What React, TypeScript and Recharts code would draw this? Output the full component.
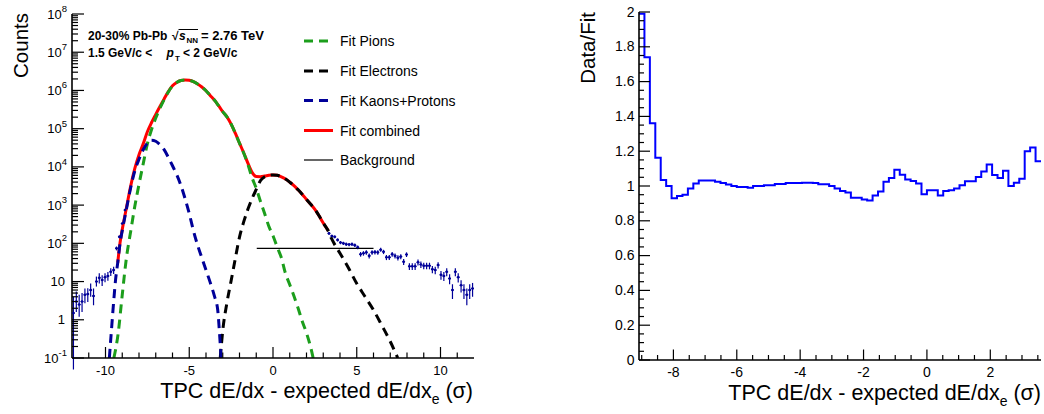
import React from 'react';
import { ComposedChart, Line, Scatter, ErrorBar, XAxis, YAxis } from 'recharts';

const FONT = '"Liberation Sans", Arial, Helvetica, sans-serif';
const GREEN = '#1c9e1c';
const NAVY = '#000099';
const RED = '#ff0000';
const BLUE = '#0000ff';

// histogram binning: 140 bins over [-12, 12]
const BIN_W = 24 / 140;

// ---- left panel: fit components, x in sigma, y in counts ----
const pionX = [-9.5, -9.25, -9.0, -8.75, -8.5, -8.25, -8.0, -7.75, -7.5, -7.25, -7.0, -6.75, -6.5, -6.25, -6.0, -5.75, -5.5, -5.25, -5.0, -4.75, -4.5, -4.25, -4.0, -3.75, -3.5, -3.25, -3.0, -2.75, -2.5, -2.25, -2.0, -1.75, -1.5, -1.25, -1.0, -0.75, -0.5, -0.25, 0.0, 0.25, 0.5, 0.75, 1.0, 1.25, 1.5, 1.75, 2.0, 2.25, 2.42];
const pionY = [0.1, 0.42, 4.5, 42, 200, 930, 3500, 12000, 40000, 95000, 190000, 340000, 575000, 915000, 1.31e6, 1.62e6, 1.82e6, 1.88e6, 1.84e6, 1.7e6, 1.48e6, 1.23e6, 9.8e5, 7.4e5, 5.6e5, 4.0e5, 2.8e5, 2.04e5, 1.32e5, 7.6e4, 4.15e4, 2.3e4, 1.17e4, 5200, 2750, 1260, 600, 280, 158, 80, 42, 16, 8.3, 4.2, 2.0, 0.9, 0.45, 0.19, 0.09];

const electronX = [-3.15, -3.0, -2.75, -2.5, -2.25, -2.0, -1.75, -1.5, -1.25, -1.0, -0.75, -0.5, -0.25, 0, 0.25, 0.5, 0.75, 1.0, 1.25, 1.5, 1.75, 2.0, 2.25, 2.5, 2.75, 3.0, 3.3, 3.5, 4.0, 4.5, 5.0, 5.5, 6.0, 6.5, 7.0, 7.45];
const electronY = [0.1, 0.52, 2.8, 10.5, 40, 145, 363, 776, 1480, 2570, 4365, 5500, 6030, 6170, 6030, 5500, 4790, 3980, 3240, 2510, 1905, 1410, 1050, 776, 525, 340, 210, 132, 55, 23, 8.9, 4.0, 1.8, 0.71, 0.27, 0.1];

const kpX = [-9.77, -9.65, -9.5, -9.4, -9.27, -9.13, -9.0, -8.75, -8.5, -8.25, -8.0, -7.75, -7.5, -7.25, -7.0, -6.75, -6.5, -6.25, -6.0, -5.75, -5.5, -5.25, -5.0, -4.75, -4.5, -4.25, -4.0, -3.75, -3.5, -3.3, -3.2, -3.1];
const kpY = [0.1, 0.5, 3.5, 11, 31, 100, 214, 790, 2800, 7900, 15800, 28000, 41700, 50000, 46800, 38000, 28200, 17800, 10700, 6300, 3300, 1480, 600, 214, 89, 42, 20, 9.5, 4.2, 1.8, 0.5, 0.1];

const combinedX = [-9.27, -9.13, -9.0, -8.75, -8.5, -8.25, -8.0, -7.75, -7.5, -7.25, -7.0, -6.75, -6.5, -6.25, -6.0, -5.75, -5.5, -5.25, -5.0, -4.75, -4.5, -4.25, -4.0, -3.75, -3.5, -3.25, -3.0, -2.75, -2.5, -2.25, -2.0, -1.75, -1.5, -1.25, -1.0, -0.75, -0.5, -0.25, 0, 0.25, 0.5, 0.75, 1.0, 1.25, 1.5, 1.75, 2.0, 2.25, 2.5, 2.75, 3.0, 3.3];
const combinedY = [31, 105, 230, 850, 3100, 9100, 20900, 40000, 83000, 1.45e5, 2.37e5, 3.8e5, 6.0e5, 9.3e5, 1.32e6, 1.62e6, 1.82e6, 1.88e6, 1.84e6, 1.7e6, 1.48e6, 1.23e6, 9.8e5, 7.4e5, 5.6e5, 4.0e5, 2.8e5, 2.04e5, 1.32e5, 7.6e4, 4.17e4, 2.34e4, 1.26e4, 7200, 5600, 5560, 5750, 6030, 6170, 6030, 5500, 4790, 3980, 3240, 2510, 1905, 1410, 1050, 776, 525, 340, 214];

const backgroundX = [-0.97, 6.0];
const backgroundY = [74, 74];

// ---- left panel: data histogram (visible bins only) ----
const lowFirstBin = 0;
const lowCounts = [1.5, 3.0, 2.5, 3.0, 4.5, 4.7, 6.0, 4.2, 10, 12.5, 11, 13, 14, 18, 20, 74, 148, 330, 740];
const lowErrDown = [1.45, 1.4, 1.3, 1.4, 1.8, 1.8, 2.0, 1.8, 2.6, 3.6, 3.3, 3.4, 3.5, 4.0, 4.2, 8.6, 12, 18, 27];
const lowErrUp = [2.5, 2.5, 2.0, 2.0, 2.1, 2.0, 2.9, 2.4, 3.5, 4.0, 3.6, 3.6, 3.7, 4.2, 4.5, 8.6, 12, 18, 27];

const tailFirstBin = 89;
const tailCounts = [182, 155, 148, 123, 105, 100, 95, 93, 95, 89, 79, 52, 55, 58, 47, 58, 59, 58, 68, 60, 43, 43, 52, 47, 42, 45, 33, 51, 25, 25, 25, 32, 28, 26, 26, 26, 21, 20, 27, 15, 14, 18, 12, 6, 18, 13, 8, 6, 4.5, 6, 6.6];
const tailErr = [13.5, 12.4, 12.2, 11.1, 10.2, 10, 9.7, 9.6, 9.7, 9.4, 8.9, 7.2, 7.4, 7.6, 6.9, 7.6, 7.7, 7.6, 8.2, 7.7, 6.6, 6.6, 7.2, 6.9, 6.5, 6.7, 5.7, 7.1, 5, 5, 5, 5.7, 5.3, 5.1, 5.1, 5.1, 4.6, 4.5, 5.2, 3.9, 3.7, 4.2, 3.5, 2.5, 4.2, 3.6, 2.8, 2.5, 2.1, 2.5, 2.6];

// ---- right panel: Data/Fit ratio, bins 17..90 ----
const ratioFirstBin = 17;
const ratioValues = [
  1.99, 1.74, 1.36, 1.163, 1.034, 1.0, 0.929, 0.942, 0.95, 0.986,
  1.015, 1.031, 1.031, 1.031, 1.025, 1.017, 1.008, 1.0, 0.994, 0.994,
  0.99, 1.0, 1.0, 1.004, 1.004, 1.012, 1.012, 1.017, 1.017, 1.017,
  1.019, 1.019, 1.017, 1.01, 1.01, 1.0, 0.985, 0.971, 0.962, 0.933,
  0.933, 0.923, 0.917, 0.946, 0.969, 1.025, 1.046, 1.094, 1.065, 1.038,
  1.029, 1.015, 0.952, 0.975, 0.975, 0.946, 0.971, 0.975, 0.985, 1.004,
  1.027, 1.027, 1.052, 1.083, 1.123, 1.063, 1.046, 1.088, 1.0, 1.019,
  1.042, 1.2, 1.221, 1.142,
];

// ---- axis ticks ----
const LEFT_X_MAJOR = [-10, -5, 0, 5, 10];
const LEFT_X_MINOR = [-11, -9, -8, -7, -6, -4, -3, -2, -1, 1, 2, 3, 4, 6, 7, 8, 9, 11];
const LEFT_Y_MAJOR = [0.1, 1, 10, 100, 1000, 1e4, 1e5, 1e6, 1e7, 1e8];
const RIGHT_X_MAJOR = [-8, -6, -4, -2, 0, 2];
const RIGHT_X_MINOR = [-9, -8.5, -7.5, -7, -6.5, -5.5, -5, -4.5, -3.5, -3, -2.5, -1.5, -1, -0.5, 0.5, 1, 1.5, 2.5, 3, 3.5];
const RIGHT_Y_MAJOR = [0, 0.2, 0.4, 0.6, 0.8, 1, 1.2, 1.4, 1.6, 1.8, 2];

const LEFT_Y_MINOR: number[] = [];
LEFT_Y_MAJOR.slice(0, -1).forEach((d) => {
  for (let m = 2; m <= 9; m++) LEFT_Y_MINOR.push(d * m);
});
const RIGHT_Y_MINOR: number[] = [];
RIGHT_Y_MAJOR.slice(0, -1).forEach((d) => {
  [0.05, 0.1, 0.15].forEach((s) => RIGHT_Y_MINOR.push(d + s));
});

const zip = (xs: number[], ys: number[]) => xs.map((x, i) => ({ x, y: ys[i] }));
const binCenter = (k: number) => -12 + (k + 0.5) * BIN_W;

const pionData = zip(pionX, pionY);
const electronData = zip(electronX, electronY);
const kpData = zip(kpX, kpY);
const combinedData = zip(combinedX, combinedY);
const backgroundData = zip(backgroundX, backgroundY);

const pointData = [
  ...lowCounts.map((y, i) => ({
    x: binCenter(lowFirstBin + i),
    y,
    ey: [lowErrDown[i], lowErrUp[i]],
    ex: BIN_W / 2,
  })),
  ...tailCounts.map((y, i) => ({
    x: binCenter(tailFirstBin + i),
    y,
    ey: [tailErr[i], tailErr[i]],
    ex: BIN_W / 2,
  })),
];

const ratioLo = -12 + ratioFirstBin * BIN_W;
const ratioHi = -12 + (ratioFirstBin + ratioValues.length) * BIN_W;
const ratioData = [
  ...ratioValues.map((y, i) => ({ x: -12 + (ratioFirstBin + i) * BIN_W, y })),
  { x: ratioHi, y: ratioValues[ratioValues.length - 1] },
];

type Side = 'left' | 'right' | 'top' | 'bottom';

const isIn = (arr: number[], v: number) => arr.some((m) => Math.abs(m - v) <= 1e-9 * Math.max(1, Math.abs(m)));

function makeTick(
  side: Side,
  majors: number[],
  majorLen: number,
  minorLen: number,
  label?: (v: number, x: number, y: number) => React.ReactNode,
) {
  return (p: any) => {
    const { x, y, payload } = p;
    const v = payload.value;
    const major = isIn(majors, v);
    const len = major ? majorLen : minorLen;
    let x2 = x;
    let y2 = y;
    if (side === 'left') x2 = x + len;
    else if (side === 'right') x2 = x - len;
    else if (side === 'top') y2 = y + len;
    else y2 = y - len;
    return (
      <g>
        <line x1={x} y1={y} x2={x2} y2={y2} stroke="#000" strokeWidth={1.2} />
        {major && label ? label(v, x, y) : null}
      </g>
    );
  };
}

const logLabel = (v: number, x: number, y: number) => {
  const e = Math.round(Math.log10(v));
  if (e === 0 || e === 1) {
    return (
      <text x={x - 7} y={y + 4.5} textAnchor="end" fontSize={13} fontFamily={FONT} fill="#000">
        {e === 0 ? '1' : '10'}
      </text>
    );
  }
  return (
    <text x={x - 5} y={y + 4.5} textAnchor="end" fontSize={13} fontFamily={FONT} fill="#000">
      10<tspan fontSize={9.5} dy={-6.5}>{e}</tspan>
    </text>
  );
};

const xLabel = (size: number) => (v: number, x: number, y: number) => (
  <text x={x} y={y + 17} textAnchor="middle" fontSize={size} fontFamily={FONT} fill="#000">
    {String(v)}
  </text>
);

const ratioLabel = (v: number, x: number, y: number) => (
  <text x={x - 4.5} y={y + 4.5} textAnchor="end" fontSize={14} fontFamily={FONT} fill="#000">
    {String(Math.round(v * 10) / 10)}
  </text>
);

const frame = { stroke: '#000', strokeWidth: 1.6 };

const dataDot = (p: any) => <circle cx={p.cx} cy={p.cy} r={1.3} fill={NAVY} />;

const legendItems = [
  { label: 'Fit Pions', color: GREEN, dash: '9 6', width: 3, y: 41 },
  { label: 'Fit Electrons', color: '#000', dash: '9 6', width: 3, y: 71 },
  { label: 'Fit Kaons+Protons', color: NAVY, dash: '9 6', width: 3, y: 100.5 },
  { label: 'Fit combined', color: RED, dash: undefined, width: 3, y: 130.5 },
  { label: 'Background', color: '#000', dash: undefined, width: 1.2, y: 160 },
];

function SpectrumPanel() {
  return (
    <ComposedChart width={480} height={414} margin={{ top: 14, right: 6, bottom: 0, left: 0 }}>
      <XAxis
        xAxisId="b"
        dataKey="x"
        type="number"
        domain={[-12, 12]}
        allowDataOverflow
        height={56}
        ticks={[...LEFT_X_MAJOR, ...LEFT_X_MINOR]}
        interval={0}
        tickSize={0}
        tickMargin={0}
        tickLine={false}
        axisLine={frame}
        tick={makeTick('bottom', LEFT_X_MAJOR, 11, 5.5, xLabel(13))}
      />
      <XAxis
        xAxisId="t"
        orientation="top"
        type="number"
        domain={[-12, 12]}
        allowDataOverflow
        height={0}
        ticks={[...LEFT_X_MAJOR, ...LEFT_X_MINOR]}
        interval={0}
        tickSize={0}
        tickMargin={0}
        tickLine={false}
        axisLine={frame}
        tick={makeTick('top', LEFT_X_MAJOR, 11, 5.5)}
      />
      <YAxis
        yAxisId="l"
        dataKey="y"
        type="number"
        scale="log"
        domain={[0.1, 1e8]}
        allowDataOverflow
        width={72}
        ticks={[...LEFT_Y_MAJOR, ...LEFT_Y_MINOR]}
        interval={0}
        tickSize={0}
        tickMargin={0}
        tickLine={false}
        axisLine={frame}
        tick={makeTick('left', LEFT_Y_MAJOR, 12, 6, logLabel)}
      />
      <YAxis
        yAxisId="r"
        orientation="right"
        type="number"
        scale="log"
        domain={[0.1, 1e8]}
        allowDataOverflow
        width={0}
        ticks={[...LEFT_Y_MAJOR, ...LEFT_Y_MINOR]}
        interval={0}
        tickSize={0}
        tickMargin={0}
        tickLine={false}
        axisLine={frame}
        tick={makeTick('right', LEFT_Y_MAJOR, 12, 6)}
      />
      <Scatter
        data={pointData}
        xAxisId="b"
        yAxisId="l"
        shape={dataDot}
        isAnimationActive={false}
      >
        <ErrorBar dataKey="ey" direction="y" width={0} stroke={NAVY} strokeWidth={1.2} />
        <ErrorBar dataKey="ex" direction="x" width={0} stroke={NAVY} strokeWidth={1.2} />
      </Scatter>
      <Line data={combinedData} xAxisId="b" yAxisId="l" dataKey="y" type="monotone" stroke={RED} strokeWidth={3} dot={false} activeDot={false} isAnimationActive={false} />
      <Line data={pionData} xAxisId="b" yAxisId="l" dataKey="y" type="monotone" stroke={GREEN} strokeWidth={3} strokeDasharray="9 6" dot={false} activeDot={false} isAnimationActive={false} />
      <Line data={electronData} xAxisId="b" yAxisId="l" dataKey="y" type="monotone" stroke="#000" strokeWidth={3} strokeDasharray="9 6" dot={false} activeDot={false} isAnimationActive={false} />
      <Line data={kpData} xAxisId="b" yAxisId="l" dataKey="y" type="monotone" stroke={NAVY} strokeWidth={3} strokeDasharray="9 6" dot={false} activeDot={false} isAnimationActive={false} />
      <Line data={backgroundData} xAxisId="b" yAxisId="l" dataKey="y" type="linear" stroke="#000" strokeWidth={1.3} dot={false} activeDot={false} isAnimationActive={false} />
    </ComposedChart>
  );
}

function RatioPanel() {
  return (
    <ComposedChart width={484} height={414} margin={{ top: 12, right: 3, bottom: 0, left: 0 }}>
      <XAxis
        xAxisId="b"
        dataKey="x"
        type="number"
        domain={[ratioLo, ratioHi]}
        allowDataOverflow
        height={54}
        ticks={[...RIGHT_X_MAJOR, ...RIGHT_X_MINOR]}
        interval={0}
        tickSize={0}
        tickMargin={0}
        tickLine={false}
        axisLine={frame}
        tick={makeTick('bottom', RIGHT_X_MAJOR, 10.5, 5, xLabel(14))}
      />
      <XAxis xAxisId="t" orientation="top" type="number" domain={[ratioLo, ratioHi]} allowDataOverflow height={0} tick={false} tickLine={false} axisLine={frame} />
      <YAxis
        yAxisId="l"
        type="number"
        domain={[0, 2]}
        allowDataOverflow
        width={79}
        ticks={[...RIGHT_Y_MAJOR, ...RIGHT_Y_MINOR]}
        interval={0}
        tickSize={0}
        tickMargin={0}
        tickLine={false}
        axisLine={frame}
        tick={makeTick('left', RIGHT_Y_MAJOR, 11, 5, ratioLabel)}
      />
      <YAxis yAxisId="r" orientation="right" type="number" domain={[0, 2]} allowDataOverflow width={0} tick={false} tickLine={false} axisLine={frame} />
      <Line data={ratioData} xAxisId="b" yAxisId="l" dataKey="y" type="stepAfter" stroke={BLUE} strokeWidth={2} dot={false} activeDot={false} isAnimationActive={false} />
    </ComposedChart>
  );
}

export default function App() {
  return (
    <div style={{ position: 'absolute', left: 0, top: 0, width: 1044, height: 414, background: '#fff', fontFamily: FONT }}>
      <div style={{ position: 'absolute', left: 0, top: 0 }}>
        <SpectrumPanel />
      </div>
      <div style={{ position: 'absolute', left: 560, top: 0 }}>
        <RatioPanel />
      </div>
      <svg width={1044} height={414} style={{ position: 'absolute', left: 0, top: 0, pointerEvents: 'none' }} fontFamily={FONT}>
        {/* axis titles */}
        <text transform="translate(28,13) rotate(-90)" textAnchor="end" fontSize={20.5} fill="#000">Counts</text>
        <text transform="translate(595,12) rotate(-90)" textAnchor="end" fontSize={20.5} fill="#000">Data/Fit</text>
        <text x={473} y={398} textAnchor="end" fontSize={21.5} fill="#000">
          TPC dE/dx - expected dE/dx<tspan fontSize={14} dy={6}>e</tspan><tspan dy={-6}> (σ)</tspan>
        </text>
        <text x={1041} y={400} textAnchor="end" fontSize={21.5} fill="#000">
          TPC dE/dx - expected dE/dx<tspan fontSize={14} dy={6}>e</tspan><tspan dy={-6}> (σ)</tspan>
        </text>

        {/* collision system annotation */}
        <text fontSize={12} fontWeight="bold" fill="#000">
          <tspan x={88} y={39.5}>20-30% Pb-Pb</tspan>
          <tspan x={172} y={39.5}>√</tspan>
          <tspan x={179} y={39.5} fontStyle="italic">s</tspan>
          <tspan x={186.5} y={42.5} fontSize={8}>NN</tspan>
          <tspan x={201} y={39.5} fontSize={13}>= 2.76 TeV</tspan>
        </text>
        <line x1={178.5} y1={29.5} x2={198} y2={29.5} stroke="#000" strokeWidth={1} />
        <text fontSize={12} fontWeight="bold" fill="#000">
          <tspan x={88} y={57}>1.5 GeV/c &lt;</tspan>
          <tspan x={166.5} y={57} fontStyle="italic">p</tspan>
          <tspan x={175} y={61} fontSize={8}>T</tspan>
          <tspan x={183} y={57}>&lt; 2 GeV/c</tspan>
        </text>

        {/* legend */}
        {legendItems.map((it) => (
          <g key={it.label}>
            <line x1={304} y1={it.y} x2={it.dash ? 328 : 333} y2={it.y} stroke={it.color} strokeWidth={it.width} strokeDasharray={it.dash} />
            <text x={340} y={it.y + 5} fontSize={14} fill="#000">{it.label}</text>
          </g>
        ))}
      </svg>
    </div>
  );
}
